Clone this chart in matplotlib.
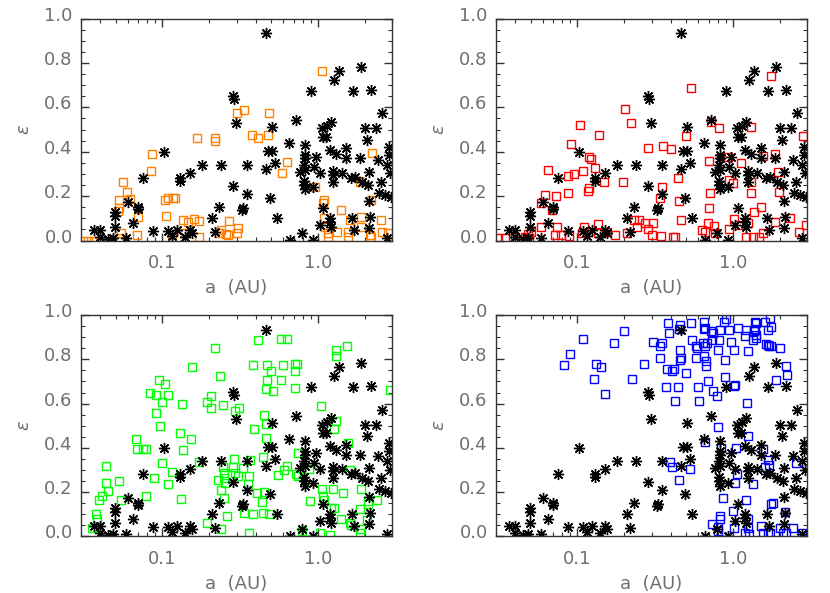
import numpy as np
import matplotlib
matplotlib.use("Agg")
import matplotlib.pyplot as plt
from matplotlib.ticker import FixedLocator, FixedFormatter, LogLocator, MultipleLocator, NullFormatter
from matplotlib.transforms import ScaledTranslation

# observed planets (black asterisks, same in every panel): (a [AU], eccentricity)
stars = [
    (0.0366, 0.047), (0.0395, 0.047), (0.0395, 0.017), (0.0481, 0.010), (0.0587, 0.010),
    (0.0494, 0.130), (0.0494, 0.110), (0.0494, 0.062), (0.0602, 0.175), (0.0649, 0.077),
    (0.0699, 0.152), (0.0699, 0.140), (0.0874, 0.043), (0.109, 0.043), (0.115, 0.020),
    (0.124, 0.047), (0.140, 0.017), (0.151, 0.047), (0.155, 0.035), (0.209, 0.100),
    (0.219, 0.040), (0.231, 0.152), (0.151, 0.303), (0.130, 0.280), (0.130, 0.270),
    (0.103, 0.400), (0.180, 0.340), (0.239, 0.340), (0.0746, 0.280), (0.284, 0.652),
    (0.288, 0.637), (0.298, 0.530), (0.284, 0.247), (0.327, 0.137), (0.330, 0.145),
    (0.352, 0.210), (0.352, 0.340), (0.467, 0.933), (0.506, 0.513), (0.481, 0.403),
    (0.511, 0.403), (0.528, 0.350), (0.462, 0.320), (0.493, 0.190), (0.545, 0.100),
    (0.655, 0.440), (0.723, 0.543), (0.661, 0.002), (0.787, 0.032), (0.927, 0.002),
    (0.767, 0.310), (0.828, 0.430), (0.830, 0.385), (0.830, 0.370), (0.820, 0.340),
    (0.830, 0.318), (0.820, 0.270), (0.820, 0.250), (0.825, 0.230), (0.904, 0.675),
    (0.975, 0.378), (0.950, 0.333), (0.927, 0.243), (1.035, 0.303), (1.035, 0.070),
    (1.060, 0.505), (1.076, 0.468), (1.130, 0.468), (1.087, 0.145), (1.140, 0.516),
    (1.220, 0.535), (1.280, 0.723), (1.360, 0.764), (1.190, 0.408), (1.250, 0.315),
    (1.260, 0.295), (1.250, 0.265), (1.190, 0.100), (1.200, 0.085), (1.220, 0.062),
    (1.310, 0.390), (1.430, 0.303), (1.680, 0.675), (1.520, 0.415), (1.520, 0.370),
    (1.660, 0.100), (1.700, 0.047), (1.640, 0.280), (1.740, 0.287), (1.860, 0.370),
    (1.890, 0.783), (2.020, 0.505), (2.070, 0.453), (2.140, 0.310), (2.100, 0.250),
    (1.910, 0.265), (2.140, 0.180), (2.160, 0.107), (2.140, 0.055), (2.210, 0.680),
    (2.350, 0.505), (2.450, 0.363), (2.570, 0.573), (2.530, 0.265), (2.470, 0.213),
    (2.700, 0.205), (2.950, 0.198), (2.770, 0.340), (2.860, 0.422), (2.860, 0.385),
    (2.910, 0.302), (2.790, 0.010), (0.0445, 0.005),
]

# simulated planets, one set per panel
orange_pts = [
    (1.07, 0.763), (0.335, 0.588), (0.303, 0.573), (0.485, 0.576), (0.168, 0.460),
    (0.219, 0.460), (0.219, 0.448), (0.375, 0.475), (0.414, 0.463), (0.481, 0.475),
    (0.0860, 0.388), (0.0842, 0.313), (0.0557, 0.265), (0.0597, 0.220), (0.0618, 0.187),
    (0.0527, 0.182), (0.0527, 0.145), (0.0520, 0.135), (0.0693, 0.107), (0.0683, 0.025),
    (0.0546, 0.035), (0.0527, 0.010), (0.031, 0.0), (0.0335, 0.0), (0.0365, 0.0),
    (0.040, 0.0), (0.044, 0.0), (0.104, 0.183), (0.109, 0.190), (0.117, 0.193),
    (0.121, 0.190), (0.105, 0.110), (0.136, 0.092), (0.147, 0.085), (0.160, 0.095),
    (0.172, 0.088), (0.171, 0.015), (0.140, 0.035), (0.115, 0.025), (0.231, 0.032),
    (0.237, 0.047), (0.268, 0.088), (0.255, 0.030), (0.265, 0.025), (0.307, 0.055),
    (0.300, 0.035), (0.585, 0.303), (0.633, 0.355), (0.960, 0.243), (1.090, 0.183),
    (1.085, 0.167), (1.100, 0.100), (1.120, 0.062), (1.160, 0.032), (1.165, 0.015),
    (1.320, 0.040), (1.410, 0.138), (1.560, 0.040), (1.560, 0.015), (1.620, 0.092),
    (1.890, 0.107), (1.890, 0.062), (2.170, 0.025), (2.210, 0.015), (2.240, 0.393),
    (1.860, 0.265), (2.210, 0.183), (2.550, 0.092), (2.570, 0.040), (2.840, 0.035),
]

red_pts = [
    (1.75, 0.741), (0.542, 0.686), (0.202, 0.591), (0.222, 0.531), (0.104, 0.520),
    (0.138, 0.475), (0.091, 0.433), (0.119, 0.375), (0.122, 0.367), (0.130, 0.328),
    (0.148, 0.265), (0.197, 0.265), (0.109, 0.314), (0.095, 0.300), (0.0875, 0.290),
    (0.065, 0.318), (0.0867, 0.212), (0.117, 0.225), (0.119, 0.235), (0.0618, 0.205),
    (0.0724, 0.200), (0.0683, 0.137), (0.0582, 0.167), (0.0582, 0.062), (0.0743, 0.062),
    (0.0718, 0.025), (0.078, 0.025), (0.0883, 0.020), (0.0506, 0.040), (0.048, 0.030),
    (0.046, 0.015), (0.049, 0.010), (0.031, 0.010), (0.0345, 0.010), (0.0395, 0.015),
    (0.111, 0.062), (0.107, 0.035), (0.135, 0.074), (0.155, 0.037), (0.175, 0.025),
    (0.135, 0.032), (0.208, 0.032), (0.230, 0.092), (0.248, 0.092), (0.242, 0.062),
    (0.274, 0.080), (0.284, 0.050), (0.308, 0.077), (0.303, 0.025), (0.343, 0.020),
    (0.286, 0.418), (0.357, 0.427), (0.399, 0.410), (0.348, 0.243), (0.340, 0.190),
    (0.499, 0.471), (0.447, 0.280), (0.451, 0.178), (0.462, 0.092), (0.412, 0.015),
    (0.425, 0.015), (0.633, 0.047), (0.665, 0.040), (0.698, 0.358), (0.723, 0.535),
    (0.811, 0.506), (0.716, 0.215), (0.698, 0.145), (0.690, 0.080), (0.760, 0.065),
    (0.767, 0.032), (0.927, 0.378), (0.950, 0.273), (1.000, 0.260), (0.950, 0.050),
    (1.020, 0.095), (1.130, 0.348), (1.090, 0.070), (1.310, 0.513), (1.310, 0.265),
    (1.310, 0.213), (1.360, 0.130), (1.250, 0.080), (1.220, 0.017), (1.350, 0.017),
    (1.510, 0.152), (1.560, 0.380), (1.560, 0.032), (1.480, 0.015), (1.860, 0.388),
    (1.940, 0.310), (1.990, 0.220), (1.860, 0.085), (2.330, 0.100), (2.680, 0.040),
    (2.840, 0.470), (2.940, 0.070),
]

green_pts = [
    (1.54, 0.861), (1.30, 0.840), (1.30, 0.816), (0.415, 0.888), (0.578, 0.891),
    (0.638, 0.891), (0.217, 0.853), (0.155, 0.764), (0.234, 0.723), (0.383, 0.773),
    (0.474, 0.773), (0.499, 0.746), (0.468, 0.708), (0.601, 0.773), (0.711, 0.780),
    (0.740, 0.780), (0.716, 0.746), (0.578, 0.708), (0.462, 0.668), (0.518, 0.658),
    (0.710, 0.670), (2.91, 0.663), (1.05, 0.591), (0.0953, 0.708), (0.104, 0.690),
    (0.0833, 0.648), (0.0912, 0.640), (0.108, 0.640), (0.099, 0.606), (0.133, 0.598),
    (0.091, 0.556), (0.0967, 0.498), (0.194, 0.606), (0.206, 0.633), (0.206, 0.580),
    (0.244, 0.595), (0.292, 0.565), (0.310, 0.580), (0.389, 0.486), (0.451, 0.547),
    (0.467, 0.508), (0.462, 0.445), (1.28, 0.486), (1.31, 0.520), (1.56, 0.423),
    (0.0673, 0.438), (0.0692, 0.393), (0.0746, 0.393), (0.0785, 0.393), (0.0432, 0.318),
    (0.0432, 0.243), (0.0448, 0.205), (0.0411, 0.185), (0.0392, 0.165), (0.0527, 0.250),
    (0.0546, 0.165), (0.0376, 0.100), (0.0378, 0.080), (0.0355, 0.040), (0.078, 0.182),
    (0.0885, 0.265), (0.099, 0.333), (0.109, 0.235), (0.115, 0.290), (0.130, 0.465),
    (0.135, 0.390), (0.153, 0.440), (0.132, 0.167), (0.173, 0.335), (0.194, 0.062),
    (0.239, 0.032), (0.260, 0.092), (0.228, 0.255), (0.237, 0.208), (0.245, 0.315),
    (0.248, 0.288), (0.250, 0.265), (0.252, 0.243), (0.248, 0.175), (0.288, 0.348),
    (0.286, 0.315), (0.292, 0.288), (0.306, 0.275), (0.330, 0.310), (0.335, 0.107),
    (0.360, 0.272), (0.357, 0.235), (0.364, 0.344), (0.360, 0.015), (0.385, 0.100),
    (0.408, 0.198), (0.436, 0.157), (0.444, 0.107), (0.450, 0.200), (0.444, 0.358),
    (0.485, 0.100), (0.558, 0.277), (0.608, 0.298), (0.630, 0.318), (0.723, 0.280),
    (0.751, 0.273), (0.742, 0.378), (0.896, 0.160), (0.883, 0.303), (0.790, 0.025),
    (1.03, 0.015), (1.06, 0.213), (1.08, 0.185), (1.09, 0.165), (1.19, 0.005),
    (1.22, 0.130), (1.28, 0.130), (1.25, 0.215), (1.45, 0.195), (1.42, 0.080),
    (1.60, 0.302), (1.60, 0.062), (1.64, 0.050), (1.86, 0.122), (1.89, 0.213),
    (2.09, 0.145), (2.10, 0.160), (2.06, 0.074), (1.89, 0.032), (1.88, 0.015),
    (2.42, 0.165),
]

blue_pts = [
    (0.082, 0.776), (0.090, 0.825), (0.108, 0.893), (0.132, 0.779), (0.128, 0.713),
    (0.143, 0.764), (0.151, 0.643), (0.171, 0.873), (0.199, 0.926), (0.225, 0.713),
    (0.268, 0.779), (0.308, 0.880), (0.340, 0.858), (0.352, 0.873), (0.340, 0.806),
    (0.383, 0.966), (0.389, 0.918), (0.375, 0.756), (0.406, 0.746), (0.419, 0.756),
    (0.373, 0.673), (0.444, 0.673), (0.423, 0.610), (0.457, 0.956), (0.450, 0.938),
    (0.460, 0.843), (0.462, 0.806), (0.455, 0.798), (0.503, 0.740), (0.537, 0.963),
    (0.545, 0.888), (0.578, 0.858), (0.585, 0.850), (0.578, 0.808), (0.593, 0.675),
    (0.608, 0.613), (0.655, 0.970), (0.660, 0.940), (0.650, 0.935), (0.640, 0.873),
    (0.680, 0.873), (0.665, 0.858), (0.655, 0.813), (0.670, 0.793), (0.670, 0.771),
    (0.697, 0.700), (0.723, 0.926), (0.742, 0.918), (0.734, 0.888), (0.820, 0.888),
    (0.798, 0.843), (0.751, 0.655), (0.790, 0.636), (0.831, 0.933), (0.883, 0.970),
    (0.904, 0.980), (0.895, 0.795), (0.895, 0.718), (0.950, 0.933), (0.975, 0.880),
    (1.02, 0.843), (1.02, 0.678), (1.04, 0.682), (1.08, 0.940), (1.22, 0.933),
    (1.19, 0.906), (1.26, 0.836), (1.24, 0.603), (1.38, 0.970), (1.40, 0.963),
    (1.39, 0.937), (1.37, 0.926), (1.35, 0.888), (1.42, 0.896), (1.40, 0.910),
    (1.60, 0.970), (1.73, 0.985), (1.77, 0.948), (1.68, 0.933), (1.64, 0.870),
    (1.68, 0.865), (1.75, 0.862), (1.70, 0.858), (2.00, 0.850), (1.89, 0.708),
    (2.19, 0.768), (2.24, 0.731), (0.798, 0.493), (0.665, 0.426), (0.839, 0.400),
    (1.05, 0.400), (1.26, 0.453), (1.06, 0.280), (1.03, 0.243), (1.35, 0.235),
    (1.56, 0.393), (1.68, 0.345), (1.72, 0.325), (1.60, 0.315), (2.53, 0.330),
    (0.394, 0.337), (0.409, 0.315), (0.450, 0.255), (0.531, 0.305), (0.861, 0.172),
    (1.22, 0.164), (1.01, 0.115), (1.75, 0.145), (1.80, 0.152), (2.16, 0.110),
    (0.830, 0.092), (0.830, 0.077), (0.730, 0.055), (0.800, 0.043), (0.800, 0.025),
    (1.02, 0.040), (1.26, 0.080), (1.26, 0.040), (1.19, 0.015), (1.28, 0.010),
    (1.52, 0.047), (1.56, 0.015), (1.68, 0.015), (1.73, 0.015), (2.00, 0.040),
    (2.10, 0.015), (2.21, 0.015), (2.45, 0.040), (2.78, 0.017),
]

panels = [
    (orange_pts, "#ff8000"),
    (red_pts, "#ff0000"),
    (green_pts, "#00ff00"),
    (blue_pts, "#0000ff"),
]

text_col = "#707070"
frame_col = "#333333"

fig = plt.figure(figsize=(8.3, 5.93), dpi=100)
positions = [
    [0.0976, 0.5944, 0.3747, 0.3744],
    [0.5976, 0.5944, 0.3747, 0.3744],
    [0.0976, 0.0953, 0.3747, 0.3735],
    [0.5976, 0.0953, 0.3747, 0.3735],
]

star_a, star_e = np.array(stars).T

for pos, (pts, col) in zip(positions, panels):
    ax = fig.add_axes(pos)
    a, e = np.array(pts).T
    ax.plot(a, e, ls="none", marker="s", ms=5.5, mfc="none", mec=col, mew=1.0)
    ax.plot(star_a, star_e, ls="none", marker=(8, 2, 0), ms=8, mec="black", mew=1.0)

    ax.set_xscale("log")
    ax.set_xlim(0.03, 3.0)
    ax.set_ylim(0.0, 1.0)

    ax.xaxis.set_major_locator(FixedLocator([0.1, 1.0]))
    ax.xaxis.set_major_formatter(FixedFormatter(["0.1", "1.0"]))
    ax.xaxis.set_minor_locator(LogLocator(base=10, subs=np.arange(2, 10)))
    ax.xaxis.set_minor_formatter(NullFormatter())
    ax.yaxis.set_minor_locator(MultipleLocator(0.05))
    ax.set_yticks(np.arange(0, 1.01, 0.2))
    ax.set_yticklabels(["0.0", "0.2", "0.4", "0.6", "0.8", "1.0"])

    ax.tick_params(which="both", direction="in", top=True, right=True,
                   color=frame_col, labelcolor=text_col, labelsize=13)
    ax.tick_params(which="major", length=6, width=1)
    ax.tick_params(which="minor", length=3, width=0.8)
    ax.tick_params(axis="x", pad=10)
    ax.tick_params(axis="y", pad=6)
    for lab in ax.get_yticklabels():
        lab.set_transform(lab.get_transform() + ScaledTranslation(0, 5 / 100, fig.dpi_scale_trans))

    for sp in ax.spines.values():
        sp.set_color(frame_col)
        sp.set_linewidth(1.0)

    ax.set_xlabel("a  (AU)", color=text_col, fontsize=13, labelpad=5)
    ax.set_ylabel(r"$\epsilon$", color=text_col, fontsize=13, labelpad=8)

fig.savefig("out.png", dpi=100)
